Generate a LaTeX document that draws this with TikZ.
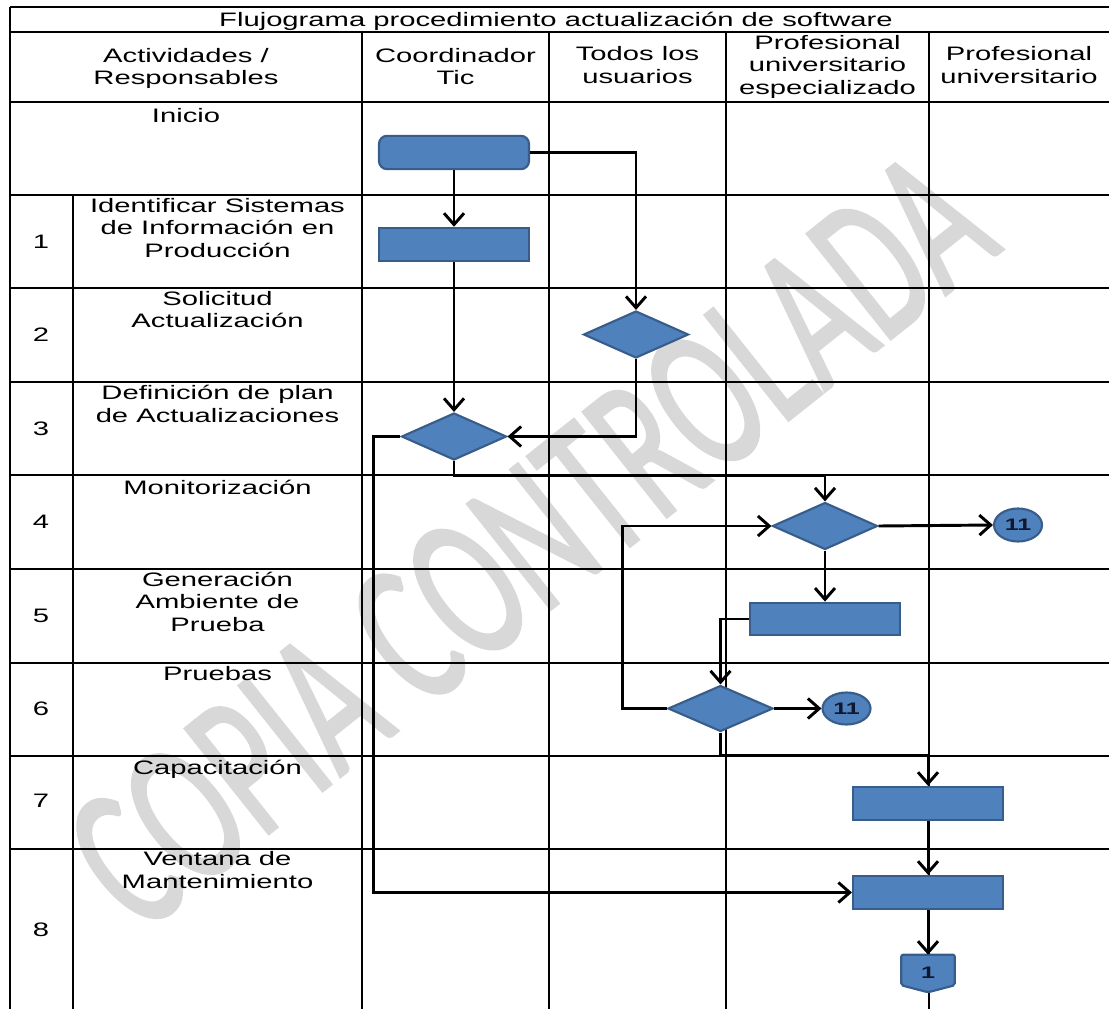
\documentclass[tikz,border=0pt]{standalone}
\usepackage{fontspec}
\setmainfont{Liberation Sans}[FakeStretch=1.5]
\newfontfamily\wmfont{Carlito}[FakeBold=1.5]
\usetikzlibrary{shapes.geometric, arrows.meta, calc}
\definecolor{shapefill}{RGB}{79,129,189}
\definecolor{shapeline}{RGB}{56,93,138}
\definecolor{numtext}{RGB}{16,24,48}
\definecolor{wmgray}{RGB}{216,216,216}

\begin{document}
\begin{tikzpicture}[x=0.75pt, y=-0.75pt,
  tline/.style={line width=1.2pt, black},
  conn/.style={line width=2.2pt, black},
  arr/.style={conn, -{Straight Barb[length=8.5pt, width=15pt]}},
  hdr/.style={align=center, inner sep=0pt, font=\fontsize{14.6pt}{16.9pt}\selectfont},
  lbl/.style={hdr, anchor=north, execute at begin node=\strut},
  num/.style={inner sep=0pt, font=\fontsize{14.6pt}{16.9pt}\selectfont},
  shp/.style={fill=shapefill, draw=shapeline, line width=1.6pt, inner sep=0pt},
  proc/.style={shp, rectangle, minimum width=112.5pt, minimum height=25pt},
  dec/.style={shp, diamond, minimum width=78.75pt, minimum height=35.25pt},
  numfont/.style={font=\bfseries\fontsize{12.5pt}{13pt}\selectfont, text=numtext},
  conc/.style={shp, ellipse, minimum width=36pt, minimum height=24.75pt, numfont},
]
\useasboundingbox (0,0) rectangle (1109,1009);

% watermark
\node[text=wmgray, font=\wmfont\fontsize{98pt}{104pt}\selectfont, rotate=38.5, yscale=1.6, transform shape, inner sep=0pt] (wm) at (530,540) {COPIA CONTROLADA};

% table lines
\foreach \yy in {7,32,102,195,288,382,475,569,663,756,849}
  \draw[tline] (10,\yy) -- (1109,\yy);
\draw[tline] (10,7) -- (10,1009);
\draw[tline] (73,195) -- (73,1009);
\foreach \xx in {362,549,726,929}
  \draw[tline] (\xx,32) -- (\xx,1009);

% title and headers
\node[hdr] (title) at (556,21.5) {Flujograma procedimiento actualización de software};
\node[lbl] (hAct) at (186,48) {Actividades /\\Responsables};
\node[lbl] (hCoord) at (455.5,48) {Coordinador\\Tic};
\node[lbl] (hTodos) at (637.5,46.5) {Todos los\\usuarios};
\node[lbl] (hPUE) at (827.5,35) {Profesional\\universitario\\especializado};
\node[lbl] (hPU) at (1019,46.5) {Profesional\\universitario};

% row labels
\node[lbl] (r0) at (186,106) {Inicio};
\node[lbl] (r1) at (217.5,198) {Identificar Sistemas\\de Información en\\Producción};
\node[lbl] (r2) at (217.5,291) {Solicitud\\Actualización};
\node[lbl] (r3) at (217.5,385) {Definición de plan\\de Actualizaciones};
\node[lbl] (r4) at (217.5,478) {Monitorización};
\node[lbl] (r5) at (217.5,571.5) {Generación\\Ambiente de\\Prueba};
\node[lbl] (r6) at (217.5,664.5) {Pruebas};
\node[lbl] (r7) at (217.5,758) {Capacitación};
\node[lbl] (r8) at (217.5,851.5) {Ventana de\\Mantenimiento};

\node[num] (n1) at (41,241.5) {1};
\node[num] (n2) at (41,335) {2};
\node[num] (n3) at (41,428.5) {3};
\node[num] (n4) at (41,522) {4};
\node[num] (n5) at (41,616) {5};
\node[num] (n6) at (41,709) {6};
\node[num] (n7) at (41,801) {7};
\node[num] (n8) at (41,930) {8};

% shapes
\node[proc, rounded corners=6pt] (start) at (454,152.5) {};
\node[proc] (box1) at (454,244.5) {};
\node[dec] (d2) at (636,334.5) {};
\node[dec] (d3) at (454,436.5) {};
\node[dec] (d4) at (825,526) {};
\node[conc] (c4) at (1018,525) {11};
\node[proc, minimum height=24.5pt] (box5) at (825,619) {};
\node[dec, minimum height=34.5pt] (d6) at (720.5,708.5) {};
\node[conc, minimum height=24pt] (c6) at (846.5,708.5) {11};
\node[proc] (box7) at (928,803.5) {};
\node[proc] (box8) at (928,892.5) {};
\node[inner sep=0pt, minimum width=39.75pt, minimum height=27.75pt] (off) at (928,973.5) {};
\filldraw[fill=shapefill, draw=shapeline, line width=1.6pt, rounded corners=1.5pt]
  (off.north west) -- (off.north east) -- ([yshift=5.25pt]off.south east)
  -- (off.south) -- ([yshift=5.25pt]off.south west) -- cycle;
\node[inner sep=0pt, numfont] (offlbl) at ([yshift=0.5pt]off.center) {1};

% connectors
\draw[arr] (start.south) -- (box1.north);
\draw[arr] (start.east) -| (d2.north);
\draw[arr] (box1.south) -- (d3.north);
\draw[arr] (d2.south) |- (d3.east);
\draw[arr] (d3.west) -- ++(-27,0) |- (box8.west);
\draw[arr] (d3.south) -- ++(0,14) -| (d4.north);
\draw[arr] (d4.east) -- (c4.west);
\draw[arr] (d4.south) -- (box5.north);
\draw[arr] (box5.west) -| (d6.north);
\draw[arr] (d6.east) -- (c6.west);
\draw[arr] (d6.west) -- ++(-44,0) |- (d4.west);
\draw[arr] (d6.south) -- ++(0,23) -| (box7.north);
\draw[arr] (box7.south) -- (box8.north);
\draw[arr] (box8.south) -- (off.north);
\end{tikzpicture}
\end{document}
